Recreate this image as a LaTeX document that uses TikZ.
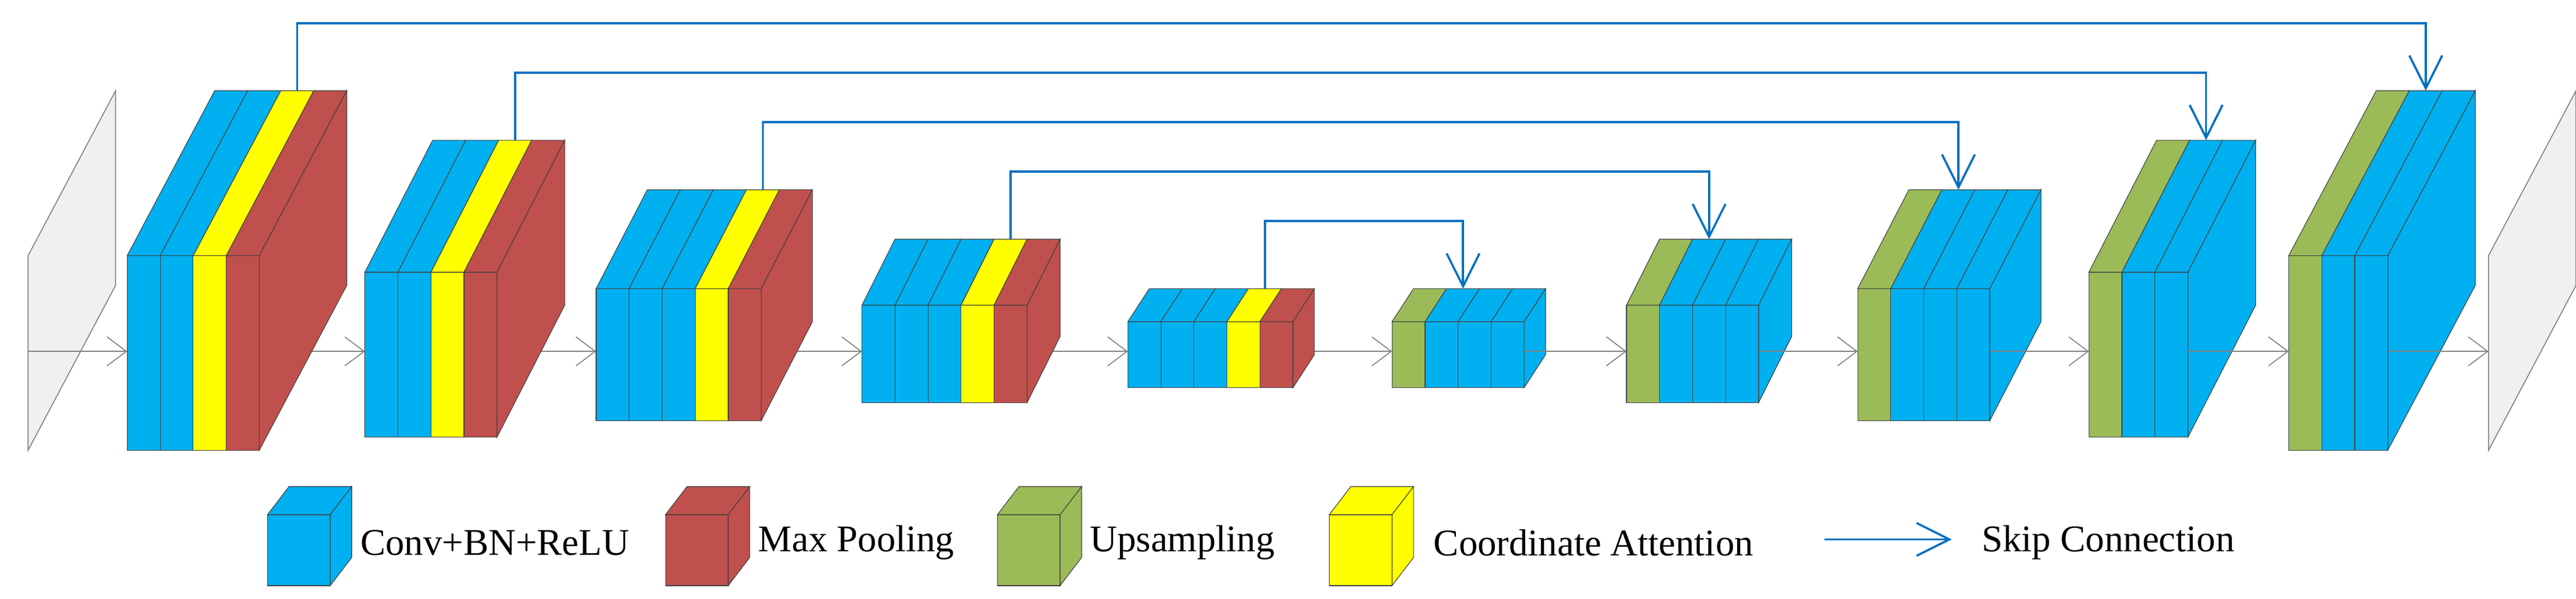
\documentclass[tikz,border=0pt]{standalone}
\usepackage{fontspec}
\setmainfont{Liberation Serif}
\usetikzlibrary{arrows.meta}
\definecolor{cB}{HTML}{00B0F0}
\definecolor{cR}{HTML}{C0504D}
\definecolor{cY}{HTML}{FFFF00}
\definecolor{cG}{HTML}{9BBB59}
\definecolor{cS}{HTML}{0070C0}
\tikzset{
  face/.style={draw=black!75,line width=0.35pt},
  flow/.style={draw=black!50,line width=0.5pt,-{Straight Barb[length=10pt,width=15pt]}},
  skip/.style={draw=cS,line width=1.1pt,-{Straight Barb[length=17pt,width=17pt,line width=1.1pt]}},
  plane/.style={draw=black!50,fill=black!6,line width=0.5pt},
  lab/.style={anchor=west,font=\fontsize{19.5}{22}\selectfont,inner sep=0pt}
}
% \blk{name}{x}{ybottom}{h}{dx}{dy}{colors}
\newcommand\blk[7]{%
  \begin{scope}[shift={(#2,#3)}]
    \foreach \c [count=\i from 0] in {#7}{
      \fill[\c,face] (20*\i,0) rectangle ++(20,#4);
      \fill[\c,face] (20*\i,#4) -- ++(#5,#6) -- ++(20,0) -- ++(-#5,-#6) -- cycle;
      \xdef\lastc{\c}\xdef\nsl{\i}
    }
    \pgfmathsetmacro\W{20*(\nsl+1)}
    \fill[\lastc,face] (\W,0) -- (\W,#4) -- ++(#5,#6) -- ++(0,-#4) -- cycle;
    \coordinate (#1-w) at (0,#4/2+0);
  \end{scope}}
\newcommand\lcube[3]{%
  \fill[#1,face] (#2,#3) rectangle ++(38,43);
  \fill[#1,face] (#2,#3+43) -- ++(13,17) -- ++(38,0) -- ++(-13,-17) -- cycle;
  \fill[#1,face] (#2+38,#3) -- ++(0,43) -- ++(13,17) -- ++(0,-43) -- cycle;}
\begin{document}
\begin{tikzpicture}[x=0.03cm,y=0.03cm]
\useasboundingbox (0,0) rectangle (1560,363);
% input plane
\draw[plane] (17,90) -- (17,208) -- (70,308) -- (70,190) -- cycle;
% flow coordinates (y=150)
\foreach \n/\x in {i0/17,a1/77,b1/157,a2/221,b2/300,a3/361,b3/463,a4/522,b4/622,a5/683,b5/783,a6/843,b6/923,a7/985,b7/1065,a8/1125,b8/1205,a9/1265,b9/1325,a10/1386,b10/1446,o/1507}
  \coordinate (\n) at (\x,150);
\draw[flow] (i0) -- (a1);
\draw[flow] (b1) -- (a2);
\draw[flow] (b2) -- (a3);
\draw[flow] (b3) -- (a4);
\draw[flow] (b4) -- (a5);
\draw[flow] (b5) -- (a6);
% encoder
\blk{e1}{77}{90}{118}{53}{100}{cB,cB,cY,cR}
\blk{e2}{221}{98}{100}{41}{80}{cB,cB,cY,cR}
\blk{e3}{361}{108}{80}{31}{60}{cB,cB,cB,cY,cR}
\blk{e4}{522}{119}{59}{20}{40}{cB,cB,cB,cY,cR}
\blk{e5}{683}{128}{40}{13}{20}{cB,cB,cB,cY,cR}
% decoder
\blk{d6}{843}{128}{40}{13}{20}{cG,cB,cB,cB}
\blk{d7}{985}{119}{59}{20}{40}{cG,cB,cB,cB}
\blk{d8}{1125}{108}{80}{31}{60}{cG,cB,cB,cB}
\blk{d9}{1265}{98}{100}{41}{80}{cG,cB,cB}
\blk{d10}{1386}{90}{118}{53}{100}{cG,cB,cB}
\draw[flow] (b6) -- (a7);
\draw[flow] (b7) -- (a8);
\draw[flow] (b8) -- (a9);
\draw[flow] (b9) -- (a10);
\draw[flow] (b10) -- (o);
% output plane
\draw[plane] (1507,90) -- (1507,208) -- (1560,308) -- (1560,190) -- cycle;
% skip connections
\coordinate (s1) at (77+40+10+53,308);   \coordinate (t1) at (1386+30+53,308);
\coordinate (s2) at (221+40+10+41,278);  \coordinate (t2) at (1265+30+41,278);
\coordinate (s3) at (361+60+10+31,248);  \coordinate (t3) at (1125+30+31,248);
\coordinate (s4) at (522+60+10+20,218);  \coordinate (t4) at (985+30+20,218);
\coordinate (s5) at (683+60+10+13,188);  \coordinate (t5) at (843+30+13,188);
\draw[skip] (s1) -- ++(0,41) -| (t1);
\draw[skip] (s2) -- ++(0,41) -| (t2);
\draw[skip] (s3) -- ++(0,41) -| (t3);
\draw[skip] (s4) -- ++(0,41) -| (t4);
\draw[skip] (s5) -- ++(0,41) -| (t5);
% legend
\lcube{cB}{162}{8}
\node[lab] (l1) at (218,34) {Conv+BN+ReLU};
\lcube{cR}{403}{8}
\node[lab] (l2) at (459,34) {Max Pooling};
\lcube{cG}{604}{8}
\node[lab] (l3) at (660,34) {Upsampling};
\lcube{cY}{805}{8}
\node[lab] (l4) at (868,34) {Coordinate Attention};
\coordinate (k1) at (1105,36);
\coordinate (k2) at (1182,36);
\draw[skip] (k1) -- (k2);
\node[lab] (l5) at (1200,34) {Skip Connection};
\end{tikzpicture}
\end{document}
